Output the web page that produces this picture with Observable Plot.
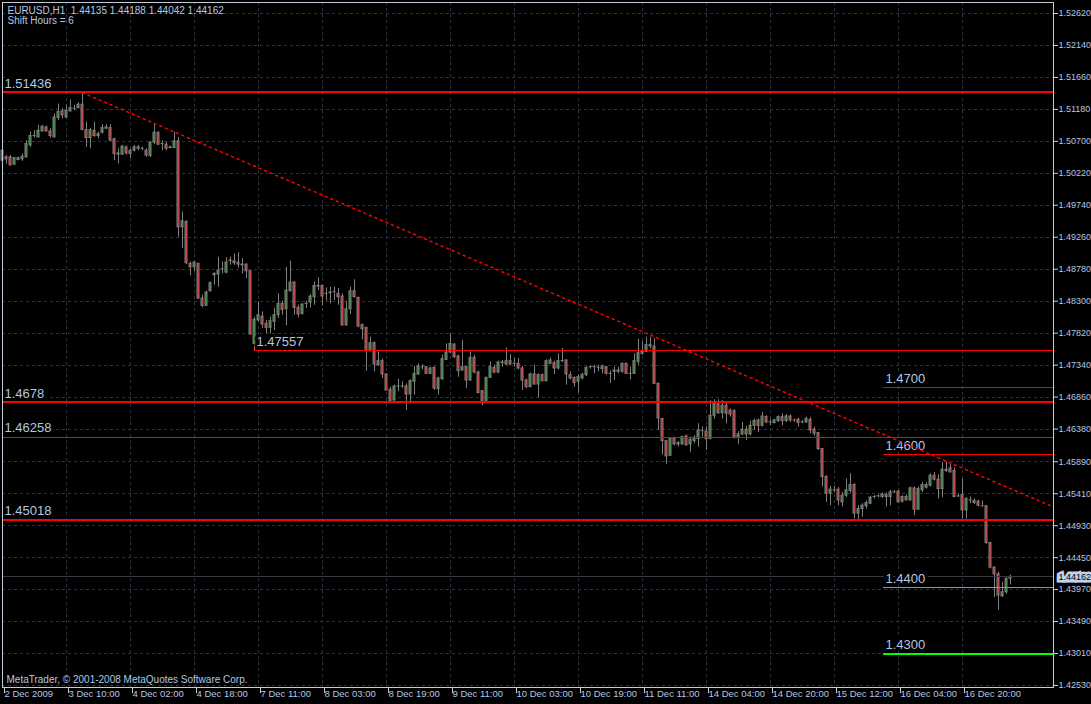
<!DOCTYPE html>
<html><head><meta charset="utf-8">
<script src="https://cdn.jsdelivr.net/npm/d3@7"></script>
<script src="https://cdn.jsdelivr.net/npm/@observablehq/plot@0.6"></script>
<style>
html,body{margin:0;padding:0;background:#000;overflow:hidden}
svg text{white-space:pre}
</style></head><body><div id="chart"></div>
<script>
// ---- data (EURUSD H1) ----
const opens = [
1.5056,1.5046,1.5046,1.5035,1.5042,1.5043,1.5046,1.5064,1.5078,1.5076,
1.5085,1.5091,1.5085,1.5076,1.5105,1.5115,1.5106,1.5115,1.5119,1.5120,
1.5125,1.5087,1.5075,1.5086,1.5078,1.5083,1.5089,1.5090,1.5073,1.5052,
1.5050,1.5061,1.5051,1.5056,1.5059,1.5059,1.5056,1.5048,1.5068,1.5083,
1.5066,1.5065,1.5060,1.5060,1.5070,1.4941,1.4949,1.4886,1.4881,1.4886,
1.4834,1.4823,1.4845,1.4869,1.4870,1.4878,1.4873,1.4890,1.4890,1.4888,
1.4885,1.4885,1.4875,1.4766,1.4801,1.4807,1.4796,1.4790,1.4799,1.4809,
1.4826,1.4818,1.4845,1.4858,1.4820,1.4811,1.4826,1.4828,1.4836,1.4852,
1.4853,1.4841,1.4842,1.4844,1.4841,1.4837,1.4794,1.4818,1.4845,1.4835,
1.4794,1.4790,1.4755,1.4767,1.4734,1.4740,1.4720,1.4697,1.4681,1.4702,
1.4702,1.4702,1.4690,1.4709,1.4720,1.4731,1.4731,1.4721,1.4730,1.4698,
1.4713,1.4742,1.4753,1.4765,1.4747,1.4726,1.4731,1.4711,1.4745,1.4723,
1.4695,1.4679,1.4715,1.4730,1.4723,1.4737,1.4735,1.4740,1.4736,1.4736,
1.4729,1.4711,1.4701,1.4720,1.4705,1.4719,1.4710,1.4741,1.4737,1.4729,
1.4740,1.4741,1.4719,1.4715,1.4709,1.4714,1.4719,1.4731,1.4731,1.4730,
1.4728,1.4731,1.4721,1.4724,1.4726,1.4724,1.4736,1.4721,1.4721,1.4739,
1.4751,1.4754,1.4764,1.4762,1.4706,1.4653,1.4620,1.4598,1.4623,1.4615,
1.4615,1.4627,1.4615,1.4620,1.4623,1.4635,1.4634,1.4623,1.4658,1.4675,
1.4662,1.4673,1.4666,1.4665,1.4625,1.4630,1.4637,1.4630,1.4643,1.4651,
1.4643,1.4656,1.4648,1.4647,1.4650,1.4656,1.4650,1.4657,1.4651,1.4652,
1.4648,1.4648,1.4652,1.4637,1.4632,1.4608,1.4566,1.4541,1.4546,1.4547,
1.4528,1.4538,1.4545,1.4554,1.4511,1.4518,1.4522,1.4526,1.4536,1.4537,
1.4536,1.4539,1.4536,1.4543,1.4544,1.4529,1.4536,1.4531,1.4549,1.4517,
1.4546,1.4550,1.4553,1.4568,1.4562,1.4548,1.4575,1.4579,1.4575,1.4537,
1.4539,1.4516,1.4531,1.4530,1.4529,1.4522,1.4522,1.4467,1.4430,1.4420,
1.4387,1.4393,1.44135];
const highs = [
1.5066,1.5049,1.5049,1.5046,1.5046,1.5051,1.5071,1.5084,1.5086,1.5094,
1.5094,1.5093,1.5089,1.5111,1.5126,1.5119,1.5124,1.5132,1.5124,1.5128,
1.51436,1.5099,1.5089,1.5099,1.5084,1.5095,1.5095,1.5095,1.5075,1.5059,
1.5064,1.5063,1.5058,1.5064,1.5064,1.5061,1.5059,1.5070,1.5095,1.5084,
1.5071,1.5069,1.5063,1.5084,1.5076,1.4964,1.4951,1.4889,1.4890,1.4887,
1.4839,1.4845,1.4859,1.4873,1.4896,1.4889,1.4895,1.4896,1.4901,1.4903,
1.4894,1.4886,1.4876,1.4806,1.4829,1.4814,1.4801,1.4806,1.4819,1.4841,
1.4830,1.4881,1.4890,1.4859,1.4824,1.4826,1.4830,1.4840,1.4859,1.4865,
1.4854,1.4850,1.4851,1.4851,1.4849,1.4841,1.4830,1.4851,1.4862,1.4836,
1.4796,1.4790,1.4776,1.4769,1.4754,1.4743,1.4721,1.4701,1.4704,1.4713,
1.4709,1.4706,1.4712,1.4732,1.4736,1.4735,1.4732,1.4731,1.4731,1.4716,
1.4749,1.4766,1.4781,1.4766,1.4749,1.4771,1.4732,1.4754,1.4749,1.4725,
1.4696,1.4716,1.4739,1.4734,1.4740,1.4741,1.4760,1.4750,1.4744,1.4744,
1.4732,1.4713,1.4722,1.4734,1.4721,1.4721,1.4742,1.4745,1.4740,1.4751,
1.4759,1.4742,1.4724,1.4716,1.4719,1.4722,1.4731,1.4733,1.4734,1.4734,
1.4734,1.4732,1.4725,1.4731,1.4731,1.4737,1.4737,1.4731,1.4751,1.4773,
1.4769,1.4776,1.4776,1.4774,1.4707,1.4654,1.4621,1.4624,1.4626,1.4619,
1.4627,1.4629,1.4626,1.4628,1.4646,1.4641,1.4641,1.4681,1.4682,1.4682,
1.4681,1.4678,1.4668,1.4667,1.4634,1.4648,1.4642,1.4650,1.4653,1.4653,
1.4663,1.4658,1.4652,1.4653,1.4658,1.4661,1.4660,1.4659,1.4653,1.4654,
1.4651,1.4656,1.4655,1.4641,1.4633,1.4609,1.4568,1.4552,1.4552,1.4550,
1.4543,1.4563,1.4571,1.4556,1.4523,1.4526,1.4530,1.4537,1.4538,1.4539,
1.4542,1.4542,1.4546,1.4546,1.4546,1.4538,1.4539,1.4551,1.4551,1.4551,
1.4558,1.4557,1.4571,1.4573,1.4569,1.4588,1.4588,1.4586,1.4580,1.4540,
1.4563,1.4535,1.4536,1.4533,1.4531,1.4530,1.4523,1.4468,1.4431,1.4423,
1.4408,1.4415,1.44188];
const lows = [
1.5031,1.5036,1.5033,1.5034,1.5041,1.5040,1.5045,1.5061,1.5075,1.5075,
1.5084,1.5084,1.5075,1.5075,1.5101,1.5104,1.5104,1.5114,1.5116,1.5119,
1.5086,1.5061,1.5059,1.5076,1.5074,1.5081,1.5088,1.5070,1.5041,1.5036,
1.5049,1.5049,1.5044,1.5054,1.5056,1.5056,1.5046,1.5046,1.5065,1.5064,
1.5056,1.5056,1.5059,1.5060,1.4926,1.4909,1.4885,1.4868,1.4874,1.4833,
1.4820,1.4823,1.4844,1.4854,1.4851,1.4871,1.4871,1.4884,1.4884,1.4880,
1.4871,1.4864,1.4779,1.47557,1.4799,1.4789,1.4781,1.4781,1.4786,1.4804,
1.4809,1.4793,1.4844,1.4809,1.4805,1.4809,1.4819,1.4820,1.4824,1.4846,
1.4823,1.4830,1.4826,1.4831,1.4824,1.4792,1.4792,1.4810,1.4835,1.4790,
1.4772,1.4725,1.4754,1.4724,1.4732,1.4714,1.4695,1.4679,1.4680,1.4694,
1.4699,1.4666,1.4676,1.4689,1.4719,1.4727,1.4720,1.4720,1.4696,1.4689,
1.4711,1.4741,1.4751,1.4744,1.4716,1.4725,1.4699,1.4710,1.4721,1.4691,
1.4673,1.4678,1.4714,1.4721,1.4721,1.4731,1.4734,1.4733,1.4731,1.4727,
1.4696,1.4699,1.4700,1.4704,1.4685,1.4709,1.4709,1.4735,1.4720,1.4727,
1.4738,1.4704,1.4712,1.4701,1.4692,1.4712,1.4717,1.4728,1.4721,1.4724,
1.4721,1.4719,1.4707,1.4711,1.4721,1.4722,1.4720,1.4712,1.4720,1.4734,
1.4749,1.4753,1.4758,1.4705,1.4636,1.4599,1.4585,1.4597,1.4613,1.4611,
1.4614,1.4612,1.4603,1.4616,1.4611,1.4626,1.4606,1.4622,1.4653,1.4660,
1.4653,1.4646,1.4656,1.4623,1.4615,1.4628,1.4621,1.4628,1.4636,1.4633,
1.4641,1.4646,1.4643,1.4646,1.4648,1.4643,1.4648,1.4648,1.4648,1.4641,
1.4646,1.4647,1.4631,1.4627,1.4606,1.4551,1.4528,1.4523,1.4542,1.4523,
1.4521,1.4535,1.4542,1.4503,1.4502,1.4506,1.4518,1.4525,1.4533,1.4535,
1.4534,1.4521,1.4523,1.4541,1.4527,1.4527,1.4530,1.4530,1.4508,1.4516,
1.4543,1.4548,1.4551,1.4560,1.4533,1.4535,1.4573,1.4572,1.4535,1.4535,
1.4503,1.4503,1.4526,1.4525,1.4521,1.4521,1.4465,1.4428,1.4385,1.4366,
1.4385,1.4390,1.44042];
const closes = [
1.5041,1.5043,1.5034,1.5045,1.5045,1.5047,1.5066,1.5078,1.5078,1.5086,
1.5092,1.5085,1.5078,1.5106,1.5114,1.5109,1.5116,1.5120,1.5119,1.5125,
1.5087,1.5075,1.5087,1.5078,1.5081,1.5090,1.5091,1.5071,1.5051,1.5050,
1.5062,1.5052,1.5056,1.5061,1.5061,1.5059,1.5049,1.5068,1.5083,1.5065,
1.5066,1.5059,1.5061,1.5070,1.4941,1.4950,1.4887,1.4881,1.4888,1.4834,
1.4823,1.4843,1.4857,1.4871,1.4876,1.4878,1.4888,1.4891,1.4887,1.4885,
1.4884,1.4875,1.4780,1.4802,1.4809,1.4795,1.4790,1.4800,1.4809,1.4826,
1.4817,1.4846,1.4858,1.4820,1.4810,1.4825,1.4826,1.4837,1.4853,1.4853,
1.4837,1.4841,1.4843,1.4844,1.4836,1.4794,1.4818,1.4845,1.4836,1.4792,
1.4788,1.4755,1.4767,1.4735,1.4740,1.4720,1.4696,1.4680,1.4702,1.4702,
1.4702,1.4690,1.4710,1.4721,1.4732,1.4731,1.4721,1.4729,1.4699,1.4714,
1.4743,1.4753,1.4766,1.4746,1.4725,1.4731,1.4711,1.4745,1.4723,1.4692,
1.4679,1.4715,1.4731,1.4723,1.4738,1.4738,1.4740,1.4735,1.4736,1.4729,
1.4711,1.4701,1.4720,1.4705,1.4719,1.4710,1.4740,1.4736,1.4729,1.4740,
1.4740,1.4720,1.4714,1.4707,1.4716,1.4719,1.4730,1.4731,1.4731,1.4730,
1.4732,1.4721,1.4721,1.4726,1.4724,1.4736,1.4721,1.4721,1.4740,1.4752,
1.4755,1.4764,1.4762,1.4706,1.4654,1.4620,1.4597,1.4623,1.4615,1.4617,
1.4626,1.4614,1.4622,1.4625,1.4636,1.4635,1.4623,1.4658,1.4676,1.4662,
1.4673,1.4661,1.4660,1.4625,1.4630,1.4637,1.4630,1.4643,1.4650,1.4643,
1.4657,1.4648,1.4648,1.4651,1.4656,1.4650,1.4657,1.4651,1.4651,1.4647,
1.4648,1.4653,1.4636,1.4631,1.4608,1.4566,1.4541,1.4547,1.4546,1.4531,
1.4538,1.4546,1.4554,1.4511,1.4518,1.4523,1.4527,1.4535,1.4536,1.4537,
1.4540,1.4536,1.4543,1.4543,1.4528,1.4536,1.4531,1.4549,1.4517,1.4548,
1.4554,1.4554,1.4568,1.4562,1.4548,1.4577,1.4577,1.4573,1.4536,1.4537,
1.4516,1.4533,1.4531,1.4527,1.4523,1.4522,1.4467,1.4430,1.4420,1.4388,
1.4393,1.4413,1.44162];

const xTickBars   = [0,16,32,48,64,80,96,112,128,144,160,176,192,208,224,240];
const xTickLabels = ["2 Dec 2009","3 Dec 10:00","4 Dec 02:00","4 Dec 18:00","7 Dec 11:00","8 Dec 03:00",
  "8 Dec 19:00","9 Dec 11:00","10 Dec 03:00","10 Dec 19:00","11 Dec 11:00","14 Dec 04:00",
  "14 Dec 20:00","15 Dec 12:00","16 Dec 04:00","16 Dec 20:00"];
const yTicks = [1.52620,1.52140,1.51660,1.51180,1.50700,1.50220,1.49740,1.49260,1.48780,1.48300,1.47820,
  1.47340,1.46860,1.46380,1.45890,1.45410,1.44930,1.44450,1.43970,1.43490,1.43010,1.42530];

// horizontal levels: price, first bar, label, colour, width
const levelPrices = [1.51436, 1.4678, 1.46258, 1.45018, 1.47557, 1.4700, 1.4600, 1.4400, 1.4300];
const levelStarts = [0, 0, 0, 0, 63, 220.25, 220.25, 220.25, 220.25];
const levelLabels = ["1.51436","1.4678","1.46258","1.45018","1.47557","1.4700","1.4600","1.4400","1.4300"];
const levelColors = ["#ff0000","#ff0000","#ff0000","#ff0000","#ff0000","#ff0000","#ff0000","#00ff00","#00ff00"];
const levelWidths = [2, 2, 1, 2, 1, 1, 1, 1, 2];

// dotted resistance ray (bar index, price)
const trendBars   = [20, 262.75];
const trendPrices = [1.5143, 1.4521];

const symbolLine = "EURUSD,H1  1.44135 1.44188 1.44042 1.44162";
const infoLine = "Shift Hours = 6";
const copyright = "MetaTrader, \u00a9 2001-2008 MetaQuotes Software Corp.";
const bid = 1.44162;

// ---- build ----
if (!(opens.length === highs.length && highs.length === lows.length && lows.length === closes.length))
  throw new Error("length mismatch " + [opens.length, highs.length, lows.length, closes.length]);

const bars = opens.map((o, i) => ({i, o, h: highs[i], l: lows[i], c: closes[i]}));
const moving = bars.filter(d => d.o !== d.c);
const levels = levelPrices.map((p, k) => ({p, start: levelStarts[k], label: levelLabels[k], color: levelColors[k], w: levelWidths[k]}));
const trend = trendBars.map((b, k) => ({i: b, p: trendPrices[k]}));
const xMax = 262.75;

const TEXT = "#b4c6e2";
const AXIS = "#c4ccda";
const GRID = "#2e323a";
const WICK = "#808080";
const FONT = "'Liberation Sans', Arial, sans-serif";

const chart = Plot.plot({
  width: 1091, height: 704,
  marginLeft: 2, marginRight: 38, marginTop: 2, marginBottom: 17,
  style: {background: "#000", color: TEXT, fontFamily: FONT, fontSize: "9.5px"},
  x: {type: "linear", domain: [0, xMax]},
  y: {type: "linear", domain: [1.4250, 1.527852]},
  color: {type: "identity"},
  marks: [
    Plot.ruleY(yTicks, {stroke: GRID, strokeDasharray: "3,3", shapeRendering: "crispEdges"}),
    Plot.ruleX(xTickBars, {stroke: GRID, strokeDasharray: "3,3", shapeRendering: "crispEdges"}),
    // candles
    Plot.ruleX(bars, {x: "i", y1: "l", y2: "h", stroke: WICK}),
    Plot.rect(bars, {x1: d => d.i - 0.375, x2: d => d.i + 0.375, y1: "o", y2: "c", fill: WICK, insetTop: -0.5, insetBottom: -0.5}),
    Plot.rect(moving, {x1: d => d.i - 0.125, x2: d => d.i + 0.125, y1: "o", y2: "c",
      fill: d => d.c > d.o ? "#1f8a1f" : "#f01414", insetTop: 0.5, insetBottom: 0.5}),
    // bid line
    Plot.ruleY([bid], {stroke: "#343a44", shapeRendering: "crispEdges"}),
    // levels
    Plot.ruleY(levels, {y: "p", x1: "start", x2: d => xMax, stroke: "color", strokeWidth: "w", shapeRendering: "crispEdges"}),
    Plot.text(levels, {x: "start", y: "p", text: "label", textAnchor: "start", lineAnchor: "middle",
      dx: 2, dy: -9, fontSize: 13, fill: TEXT, stroke: "#000", strokeWidth: 6, paintOrder: "stroke"}),
    // trend ray
    Plot.line(trend, {x: "i", y: "p", stroke: "#ff0000", strokeDasharray: "2,4"}),
    Plot.frame({stroke: AXIS}),
    // axes
    Plot.axisY(yTicks, {anchor: "right", tickSize: 4, tickPadding: 1, fontSize: 9, tickFormat: d => d.toFixed(5), label: null, stroke: AXIS}),
    Plot.axisX(xTickBars, {anchor: "bottom", tickSize: 6, tickPadding: -3, textAnchor: "start", dx: 2,
      tickFormat: d => xTickLabels[xTickBars.indexOf(d)], label: null, stroke: AXIS}),
    // current price box
    Plot.text([bid], {x: d => xMax, y: d => d, text: d => d.toFixed(5), textAnchor: "start", dx: 5, fontSize: 9,
      fill: "#000", stroke: "#c2d2ea", strokeWidth: 5, strokeLinejoin: "miter", paintOrder: "stroke"}),
    // header & footer text
    Plot.text([symbolLine], {frameAnchor: "top-left", dx: 5, dy: 4.5, lineAnchor: "top", fontSize: 10, fill: TEXT}),
    Plot.text([infoLine], {frameAnchor: "top-left", dx: 5, dy: 14.5, lineAnchor: "top", fontSize: 10, fill: TEXT}),
    Plot.text([copyright], {frameAnchor: "bottom-left", dx: 4, dy: -5, lineAnchor: "bottom", fontSize: 10, fill: TEXT})
  ]
});
document.getElementById("chart").appendChild(chart);
</script>
</body></html>
